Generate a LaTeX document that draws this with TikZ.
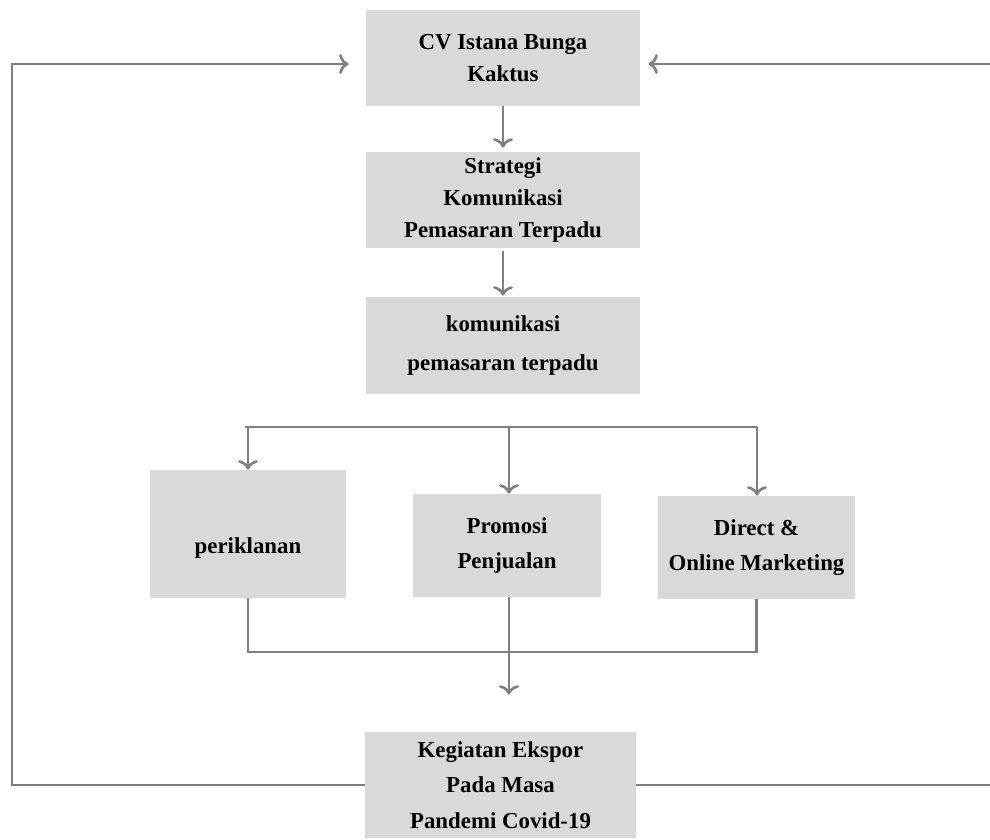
\documentclass[tikz,border=0pt]{standalone}
\usepackage{fontspec}
\setmainfont{Liberation Serif}
\usetikzlibrary{arrows.meta}

\definecolor{boxgray}{HTML}{D9D9D9}
\definecolor{linegray}{HTML}{7F7F7F}

\tikzset{
    box/.style={fill=boxgray, align=center, inner sep=0pt, font=\bfseries\fontsize{13}{18}\selectfont},
    line/.style={draw=linegray, line width=1.5pt},
    arrow/.style={line, -{To[scale=1.1]}}
}

\begin{document}
\begin{tikzpicture}[x=0.2mm,y=-0.2mm]
        \useasboundingbox (0,0) rectangle (990,839);
        %\draw[gray] (0,0) grid[step=100] (990,839);

        \node[box, minimum width=54.8mm, minimum height=19.2mm] (cv) at (503,58) {CV Istana Bunga\\Kaktus};
        \node[box, minimum width=54.8mm, minimum height=19.2mm] (strat) at (503,200) {Strategi\\Komunikasi\\Pemasaran Terpadu};
        \node[box, minimum width=54.8mm, minimum height=19.4mm] (kom) at (503,345.5) {komunikasi\\[4.7pt]pemasaran terpadu};

        \node[box, minimum width=39.2mm, minimum height=25.6mm, text height=8.8mm] (ikl) at (248,534) {periklanan};
        \node[box, minimum width=37.6mm, minimum height=20.6mm] (promo) at (507,545.5) {Promosi\\[2.2pt]Penjualan};
        \node[box, minimum width=39.4mm, minimum height=20.6mm] (dm) at (756.5,547.5) {Direct \&\\[2.2pt]Online Marketing};

        \node[box, minimum width=54.2mm, minimum height=21.2mm] (keg) at (500.5,785) {Kegiatan Ekspor\\[2.2pt]Pada Masa\\[2.2pt]Pandemi Covid-19};

        \coordinate (bl) at (245,427);
        \coordinate (br) at (757,427);
        \coordinate (jn) at (509,652);
        \coordinate (lc) at (12,64);
        \coordinate (rc) at (1000,64);

        % top column
        \draw[arrow, shorten >=0.8mm] (cv) -- (strat);
        \draw[arrow, shorten <=0.6mm, shorten >=0.2mm] (strat) -- (kom);

        % split into the three tools
        \draw[line] (bl) -- (br);
        \draw[arrow] (bl -| ikl.north) -- (ikl.north);
        \draw[arrow] (jn |- bl) -- (jn |- promo.north);
        \draw[arrow] (br) -- (br |- dm.north);

        % join and down to export
        \draw[line] (ikl.south) |- (jn) -| (dm.south);
        \draw[arrow, shorten >=7.4mm] (jn |- promo.south) -- (jn |- keg.north);

        % feedback loops
        \draw[arrow, shorten >=3.4mm] (keg.west) -| (lc) -- (lc -| cv.west);
        \draw[arrow, shorten >=1.6mm] (keg.east) -| (rc) -- (rc -| cv.east);
\end{tikzpicture}
\end{document}
